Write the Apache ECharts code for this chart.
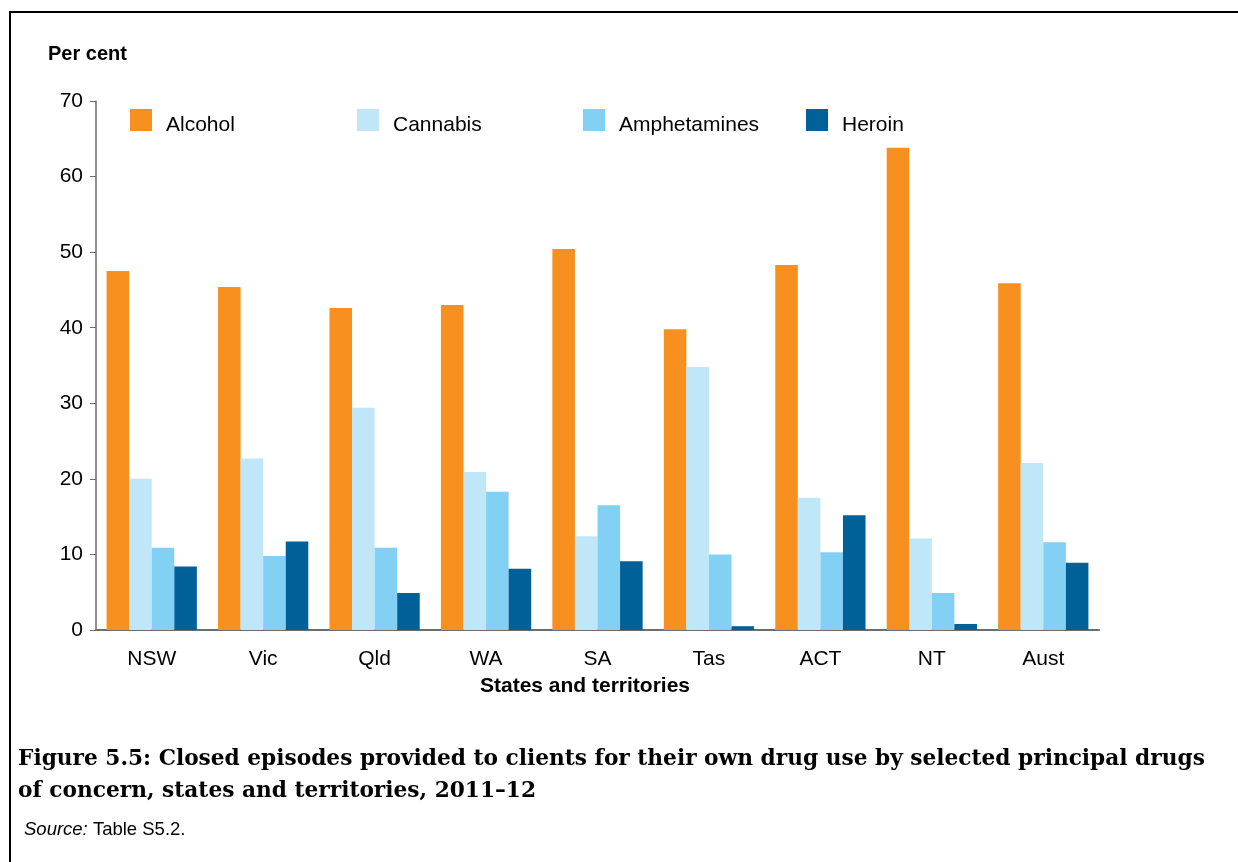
<!DOCTYPE html>
<html>
<head>
<meta charset="utf-8">
<script src="https://cdn.jsdelivr.net/npm/echarts@6/dist/echarts.min.js"></script>
<style>
  html, body { margin: 0; padding: 0; background: #fff; }
  #chart { width: 1238px; height: 862px; }
</style>
</head>
<body>
<div id="chart"></div>
<script>
  // data
  var states = ['NSW', 'Vic', 'Qld', 'WA', 'SA', 'Tas', 'ACT', 'NT', 'Aust'];
  var alcohol = [47.5, 45.4, 42.6, 43.0, 50.4, 39.8, 48.3, 63.8, 45.9];
  var cannabis = [20.0, 22.7, 29.4, 20.9, 12.4, 34.8, 17.5, 12.1, 22.1];
  var amphetamines = [10.9, 9.8, 10.9, 18.3, 16.5, 10.0, 10.3, 4.9, 11.6];
  var heroin = [8.4, 11.7, 4.9, 8.1, 9.1, 0.5, 15.2, 0.8, 8.9];
  var drugNames = ['Alcohol', 'Cannabis', 'Amphetamines', 'Heroin'];
  var colors = ['#f7901e', '#c0e7f8', '#83d0f5', '#006098'];
  var legendLeft = [130, 357, 583, 806];

  var sans = 'Liberation Sans, Arial, sans-serif';
  var chart = echarts.init(document.getElementById('chart'));

  // one legend per item so each can sit where the original puts it
  var legends = drugNames.map(function (name, i) {
    return {
      data: [name],
      left: legendLeft[i],
      top: 109,
      padding: 0,
      itemWidth: 22,
      itemHeight: 22,
      itemGap: 0,
      selectedMode: false,
      formatter: '{t|{name}}',
      textStyle: {
        fontFamily: sans, fontSize: 21, color: '#000',
        rich: { t: { fontFamily: sans, fontSize: 21, color: '#000', padding: [10, 0, 0, 9] } }
      },
      icon: 'rect'
    };
  });

  var series = [alcohol, cannabis, amphetamines, heroin].map(function (vals, i) {
    return {
      name: drugNames[i],
      type: 'bar',
      data: vals,
      barGap: '0%',
      barCategoryGap: '19%',
      itemStyle: { color: colors[i] },
      animation: false
    };
  });

  chart.setOption({
    animation: false,
    color: colors,
    legend: legends,
    grid: { left: 96, top: 101, right: 139, bottom: 232 },
    xAxis: {
      type: 'category',
      data: states,
      axisLine: { lineStyle: { color: '#6d6d6d', width: 2 } },
      axisTick: { show: false },
      axisLabel: { fontFamily: sans, fontSize: 21, color: '#000', margin: 19 }
    },
    yAxis: {
      type: 'value',
      min: 0,
      max: 70,
      interval: 10,
      axisLine: { show: true, lineStyle: { color: '#6d6d6d', width: 1.5 } },
      axisTick: { show: true, length: 6, lineStyle: { color: '#6d6d6d' } },
      axisLabel: { fontFamily: sans, fontSize: 21, color: '#000', margin: 13 },
      splitLine: { show: false }
    },
    title: [
      {
        text: 'Figure 5.5: Closed episodes provided to clients for their own drug use by selected principal drugs\nof concern, states and territories, 2011\u201312',
        left: 13,
        top: 738,
        textStyle: { fontFamily: 'DejaVu Serif, serif', fontSize: 21.7, fontWeight: 'bold', color: '#000', lineHeight: 32 }
      },
      {
        text: '{i|Source:} Table S5.2.',
        left: 19,
        top: 815,
        textStyle: {
          fontFamily: sans, fontSize: 18.5, fontWeight: 'normal', color: '#000',
          rich: { i: { fontFamily: sans, fontSize: 18.5, fontStyle: 'italic', color: '#000' } }
        }
      }
    ],
    graphic: [
      {
        type: 'text',
        left: 48,
        top: 44,
        style: { text: 'Per cent', font: 'bold 20px ' + sans, fill: '#000' }
      },
      {
        type: 'text',
        x: 585,
        y: 686,
        style: {
          text: 'States and territories', font: 'bold 21px ' + sans, fill: '#000',
          align: 'center', verticalAlign: 'middle'
        }
      },
      {
        type: 'line',
        shape: { x1: 10, y1: 12, x2: 1238, y2: 12 },
        style: { stroke: '#000', lineWidth: 2 }
      },
      {
        type: 'line',
        shape: { x1: 10, y1: 11, x2: 10, y2: 862 },
        style: { stroke: '#000', lineWidth: 2 }
      }
    ],
    series: series
  });
</script>
</body>
</html>
